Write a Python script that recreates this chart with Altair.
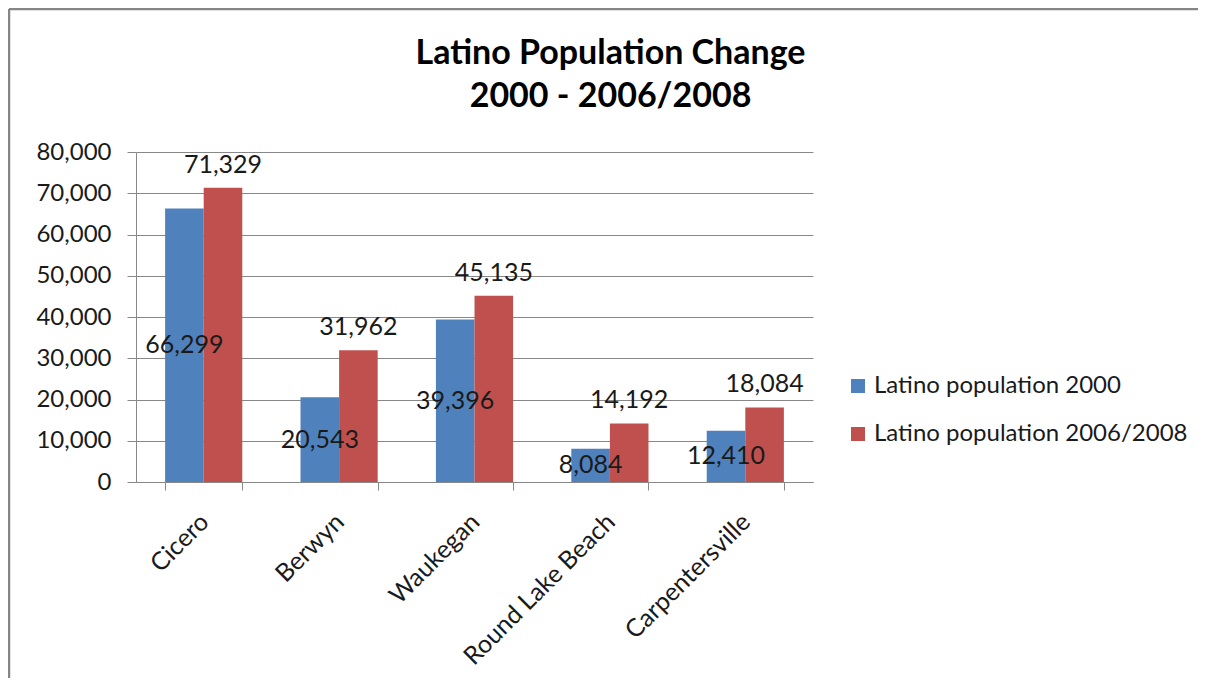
import altair as alt
import pandas as pd

cities = ["Cicero", "Berwyn", "Waukegan", "Round Lake Beach", "Carpentersville"]
pop_2000 = [66299, 20543, 39396, 8084, 12410]
pop_2006 = [71329, 31962, 45135, 14192, 18084]
series_names = ["Latino population 2000", "Latino population 2006/2008"]
colors = ["#4F81BD", "#C0504D"]
y_ticks = [0, 10000, 20000, 30000, 40000, 50000, 60000, 70000, 80000]

rows = []
for c, a, b in zip(cities, pop_2000, pop_2006):
    rows.append({"city": c, "series": series_names[0], "value": a})
    rows.append({"city": c, "series": series_names[1], "value": b})
df = pd.DataFrame(rows)

FONT = "Lato"
W, H = 677, 330

xoff = alt.XOffset("series:N", sort=series_names)
yscale = alt.Scale(domain=[0, 80000])

bars = alt.Chart(df).mark_bar().encode(
    x=alt.X("city:N", sort=cities, title=None,
            scale=alt.Scale(paddingInner=0.43, paddingOuter=0.215),
            axis=alt.Axis(labelAngle=-45, labelFontSize=25, labelFont=FONT,
                          labelColor="#1a1a1a", tickBand="extent", tickSize=8,
                          tickColor="#888888", domainColor="#888888",
                          labelPadding=19, labelOffset=-8, labelLimit=400, grid=False)),
    xOffset=xoff,
    y=alt.Y("value:Q", scale=yscale, title=None,
            axis=alt.Axis(values=y_ticks, format=",d", labelFontSize=24, labelFont=FONT,
                          labelColor="#1a1a1a", tickSize=9, tickColor="#888888",
                          domainColor="#888888", gridColor="#888888", labelPadding=16)),
    color=alt.Color("series:N", sort=series_names,
                    scale=alt.Scale(domain=series_names, range=colors),
                    legend=alt.Legend(title=None, orient="none", legendX=710, legendY=222,
                                      labelFontSize=24, labelFont=FONT, labelColor="#1a1a1a",
                                      symbolType="square", symbolSize=196, symbolStrokeWidth=0,
                                      rowPadding=24, labelOffset=4, labelLimit=400)),
)

lab_blue = alt.Chart(df).transform_filter(
    alt.datum.series == series_names[0]
).transform_calculate(mid="datum.value / 2").mark_text(
    fontSize=25, font=FONT, color="#1a1a1a", baseline="middle"
).encode(
    x=alt.X("city:N", sort=cities, title=None),
    xOffset=xoff,
    y=alt.Y("mid:Q", scale=yscale, title=None),
    text=alt.Text("value:Q", format=","),
)

lab_red = alt.Chart(df).transform_filter(
    alt.datum.series == series_names[1]
).mark_text(
    fontSize=25, font=FONT, color="#1a1a1a", baseline="alphabetic", dy=-15
).encode(
    x=alt.X("city:N", sort=cities, title=None),
    xOffset=xoff,
    y=alt.Y("value:Q", scale=yscale, title=None),
    text=alt.Text("value:Q", format=","),
)

frame_top = alt.Chart(pd.DataFrame({"k": [0]})).mark_rule(
    stroke="#868686", strokeWidth=2.5
).encode(x=alt.value(-127), x2=alt.value(1062), y=alt.value(-143))
frame_left = alt.Chart(pd.DataFrame({"k": [0]})).mark_rule(
    stroke="#868686", strokeWidth=2.5
).encode(x=alt.value(-127), y=alt.value(-143), y2=alt.value(526))

chart = alt.layer(frame_top, frame_left, bars, lab_blue, lab_red).properties(
    width=W, height=H,
    title=alt.TitleParams(
        text=["Latino Population Change", "2000 - 2006/2008"],
        font=FONT, fontSize=34, fontWeight="bold", color="#000000",
        anchor="middle", dx=136, offset=0, dy=106, lineHeight=43,
    ),
    autosize=alt.AutoSizeParams(type="none"),
    padding={"left": 128, "top": 144, "right": 390, "bottom": 200},
).configure_view(stroke=None).configure_axis(gridWidth=1)

chart.save("out.html", embed_options={"renderer": "svg", "actions": False})
